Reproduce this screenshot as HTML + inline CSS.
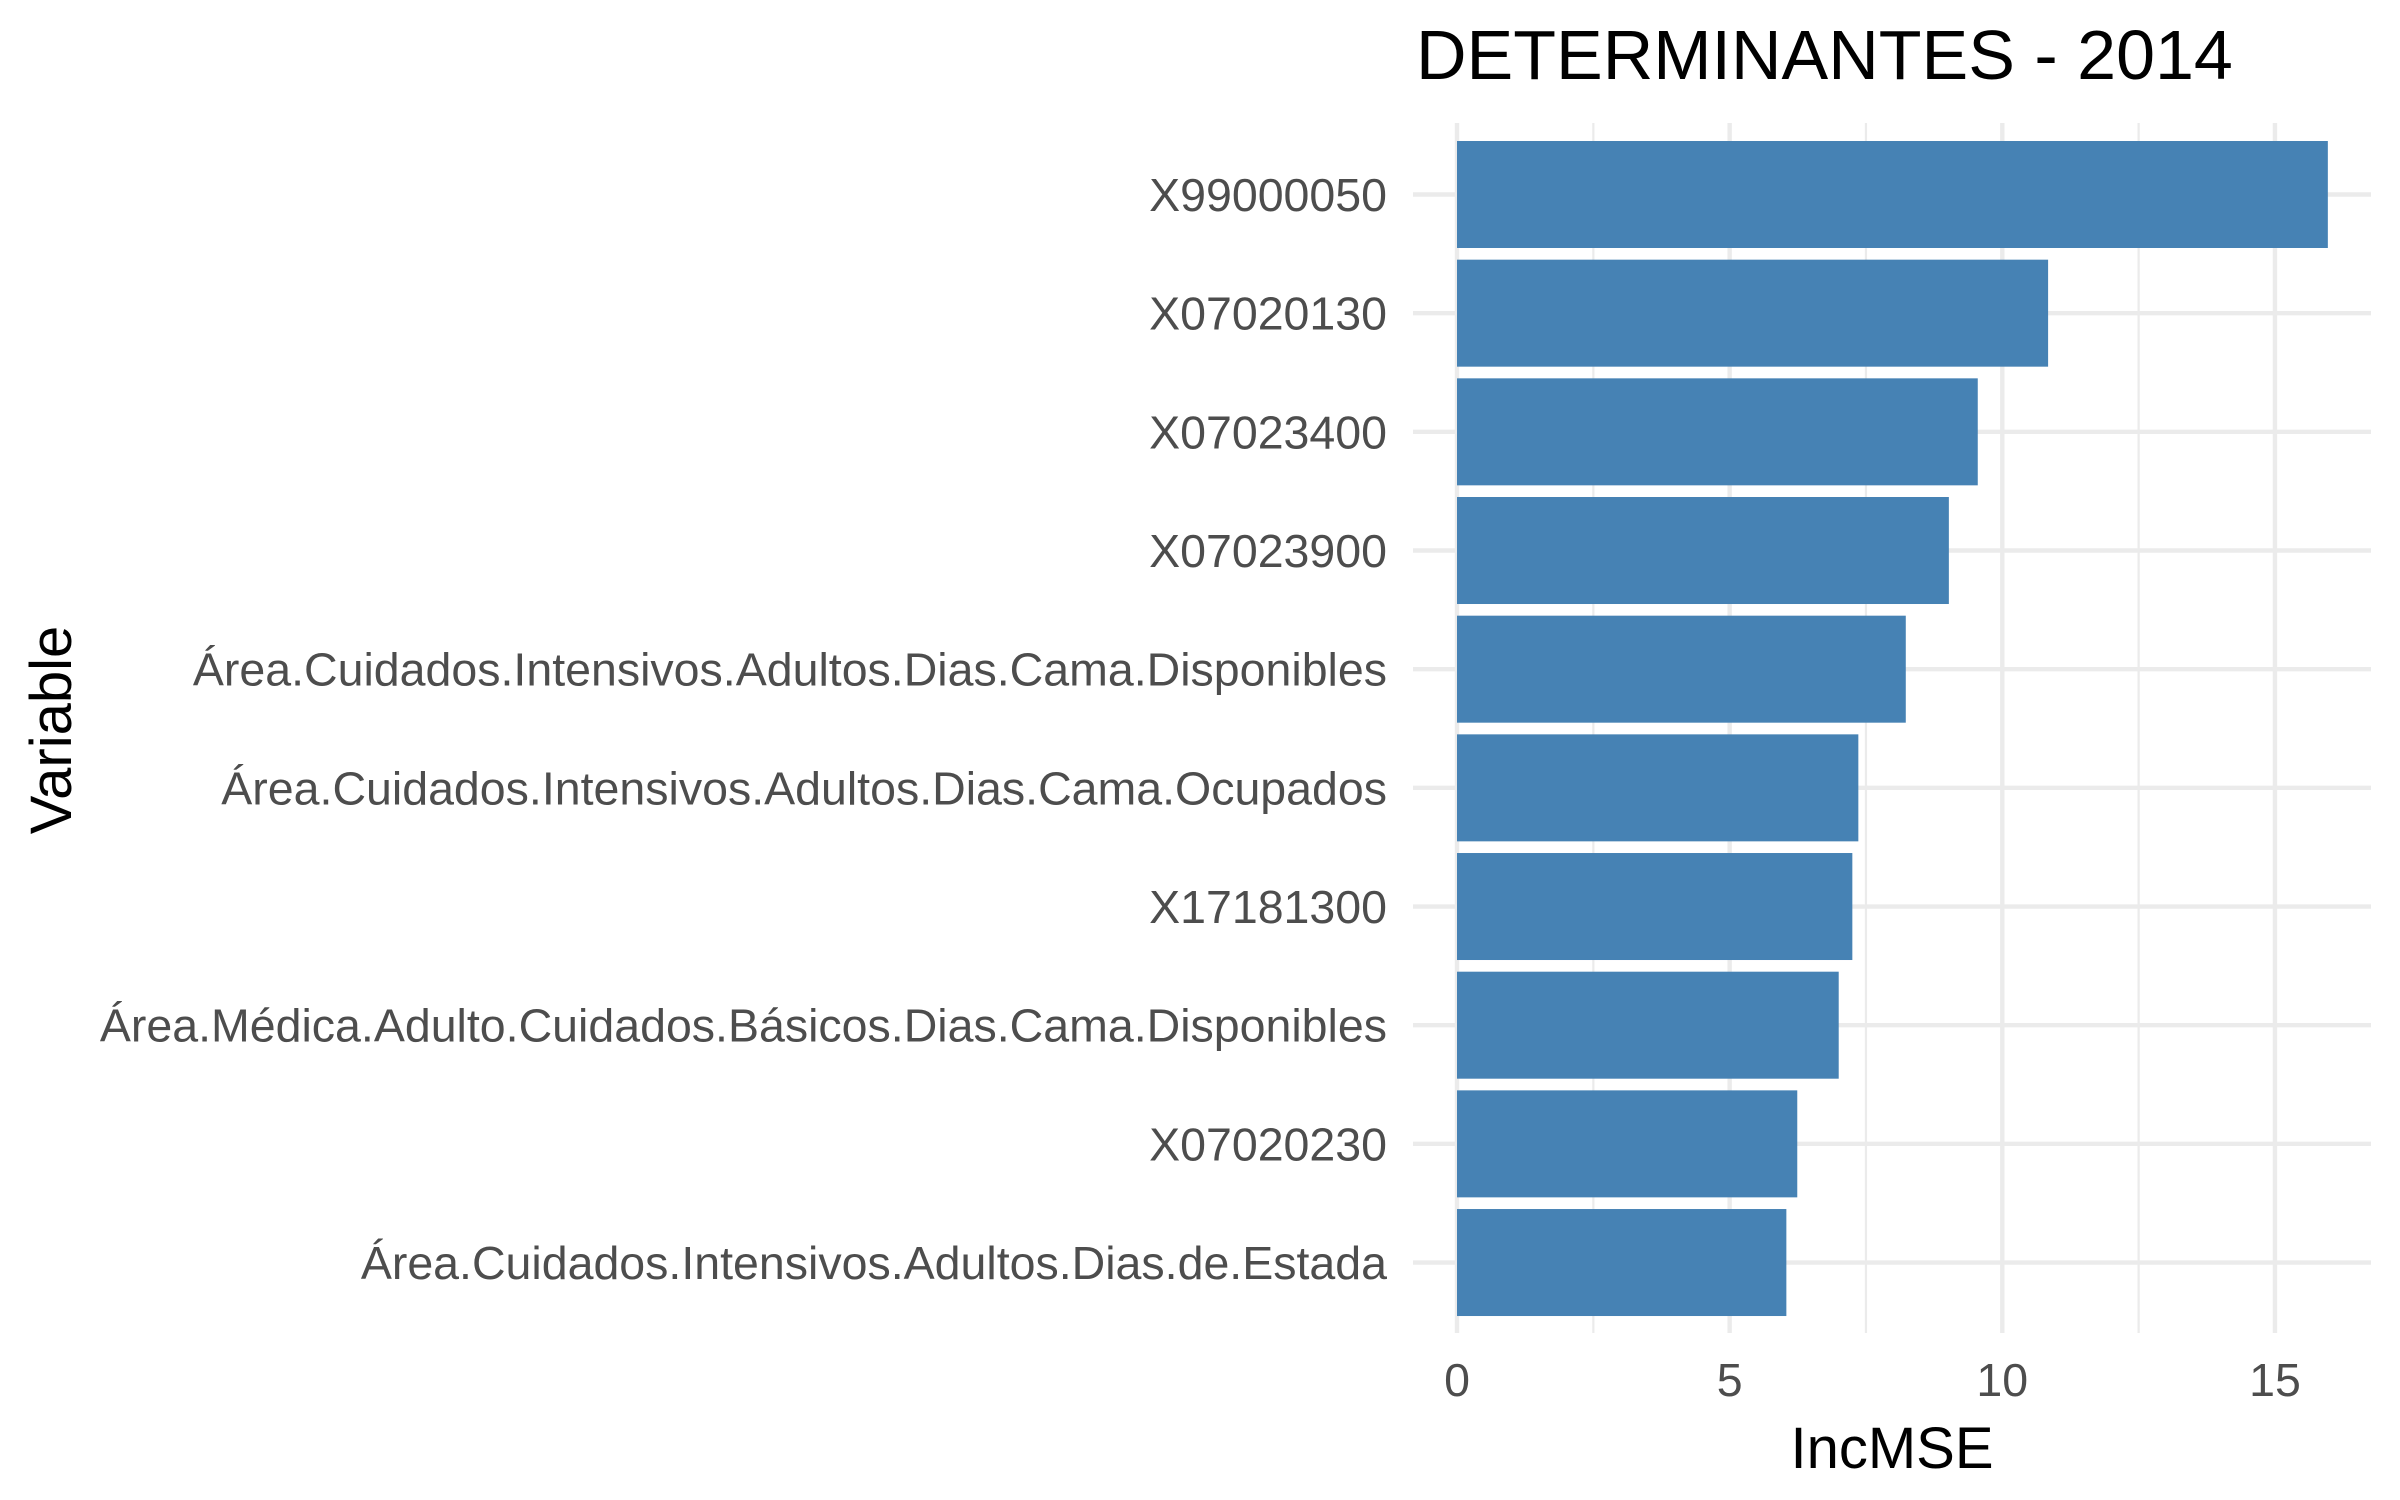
<!DOCTYPE html>
<html><head><meta charset="utf-8">
<style>
html,body{margin:0;padding:0;background:#fff;}
svg{display:block;font-family:"Liberation Sans",Arial,sans-serif;}
</style></head>
<body>
<svg id="chart" width="2400" height="1500" viewBox="0 0 2400 1500">
<rect width="2400" height="1500" fill="#fff"/>
<g id="grid"></g>
<g id="bars"></g>
<g id="ylabels"></g>
<g id="xlabels"></g>
<text x="1416" y="79" font-size="70" fill="#000">DETERMINANTES - 2014</text>
<text x="1892" y="1468" font-size="58" fill="#000" text-anchor="middle">IncMSE</text>
<text transform="translate(71,730) rotate(-90)" font-size="58" fill="#000" text-anchor="middle">Variable</text>
</svg>
<script>
const categories = ["X99000050","X07020130","X07023400","X07023900","Área.Cuidados.Intensivos.Adultos.Dias.Cama.Disponibles","Área.Cuidados.Intensivos.Adultos.Dias.Cama.Ocupados","X17181300","Área.Médica.Adulto.Cuidados.Básicos.Dias.Cama.Disponibles","X07020230","Área.Cuidados.Intensivos.Adultos.Dias.de.Estada"];
const values = [15.97,10.84,9.55,9.02,8.23,7.36,7.25,7.0,6.24,6.04];
const xTicks = [0,5,10,15];
const xTickLabels = ["0","5","10","15"];

const NS = "http://www.w3.org/2000/svg";
const x0 = 1457, unit = 54.53;
const panelL = 1413, panelR = 2371, panelT = 123, panelB = 1333;
const y0 = 194.5, step = 118.67, barH = 107;
function xs(v){ return x0 + v*unit; }
function ys(i){ return y0 + i*step; }
function mk(tag, attrs){ const e=document.createElementNS(NS,tag); for(const k in attrs) e.setAttribute(k,attrs[k]); return e; }

const grid = document.getElementById('grid');
for (let t = 2.5; t < 17; t += 5) {
  const l = mk('line',{x1:xs(t),x2:xs(t),y1:panelT,y2:panelB,stroke:'#ebebeb','stroke-width':2.2});
  
  
  grid.appendChild(l);
}
xTicks.forEach(t=>{
  const l = mk('line',{x1:xs(t),x2:xs(t),y1:panelT,y2:panelB,stroke:'#ebebeb','stroke-width':4.4});
  
  
  grid.appendChild(l);
});
categories.forEach((c,i)=>{
  const l = mk('line',{x1:panelL,x2:panelR,y1:ys(i),y2:ys(i),stroke:'#ebebeb','stroke-width':4.4});
  
  
  grid.appendChild(l);
});

const bars = document.getElementById('bars');
const yl = document.getElementById('ylabels');
categories.forEach((c,i)=>{
  const r = mk('rect',{x:xs(0),y:ys(i)-barH/2,width:xs(values[i])-xs(0),height:barH,fill:'#4682b4'});
  
  
  bars.appendChild(r);
  const t = mk('text',{x:1387,y:ys(i)+16.5,'font-size':46.5,fill:'#4d4d4d','text-anchor':'end'});
  t.textContent = c;
  
  
  yl.appendChild(t);
});

const xl = document.getElementById('xlabels');
xTicks.forEach((t,i)=>{
  const e = mk('text',{x:xs(t),y:1396,'font-size':46.5,fill:'#4d4d4d','text-anchor':'middle'});
  e.textContent = xTickLabels[i];
  
  
  xl.appendChild(e);
});
</script>
</body></html>
